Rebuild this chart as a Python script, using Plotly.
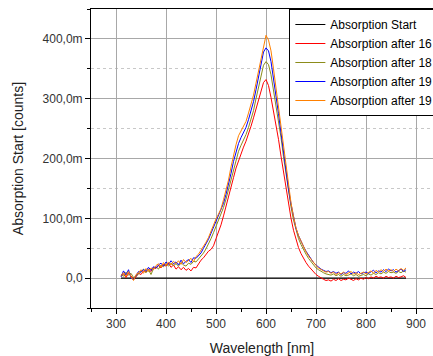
import plotly.graph_objects as go

# Wavelength grid [nm]
wavelength = list(range(310, 885, 5))

# Absorption values in milli-counts (m)
start_wl = [310, 880]
start_vals = [0, 0]

red_vals = [
    3, 7, 1, 8, 4, -3, 2, 8, 6, 12,
    10, 15, 11, 18, 16, 21, 17, 23, 20, 25,
    18, 22, 15, 19, 14, 18, 13, 16, 12, 18,
    17, 24, 30, 34, 40, 45, 48, 54, 66, 77,
    89, 104, 121, 139, 154, 168, 184, 197, 209, 219,
    229, 240, 254, 268, 282, 296, 312, 327, 332, 322,
    302, 280, 258, 232, 204, 176, 148, 123, 100, 80,
    64, 51, 41, 33, 26, 20, 15, 10, 6, 3,
    0, -2, -4, -3, -5, -2, -4, -1, -4, -2,
    -3, 0, -2, -4, -1, -3, 0, -2, 1, -1,
    2, 0, 3, 1, 2, 0, 3, 1, 2, 0,
    3, 1, 2, 4, 1,
]

olive_vals = [
    6, 3, 10, 5, 8, 1, 3, 7, 12, 15,
    9, 14, 6, 16, 19, 15, 22, 19, 24, 20,
    25, 21, 24, 20, 26, 22, 20, 25, 23, 28,
    27, 32, 36, 42, 49, 57, 66, 76, 86, 95,
    105, 118, 132, 148, 165, 182, 198, 212, 222, 230,
    240, 252, 265, 280, 300, 320, 340, 356, 362, 357,
    340, 315, 292, 264, 235, 203, 172, 144, 119, 97,
    79, 66, 56, 47, 40, 33, 27, 22, 17, 14,
    11, 9, 7, 6, 5, 7, 4, 6, 3, 6,
    4, 5, 7, 4, 6, 3, 5, 6, 4, 7,
    5, 8, 6, 9, 7, 10, 8, 11, 9, 10,
    8, 11, 9, 12, 10,
]

blue_vals = [
    2, 12, 5, 14, 0, -2, 4, 11, 10, 14,
    12, 18, 13, 19, 17, 22, 25, 20, 27, 23,
    29, 24, 27, 22, 30, 24, 28, 31, 26, 34,
    33, 38, 42, 50, 57, 65, 75, 85, 94, 102,
    112, 125, 140, 156, 175, 195, 210, 225, 235, 243,
    252, 265, 280, 295, 315, 338, 358, 378, 385, 380,
    362, 335, 305, 275, 243, 210, 178, 149, 124, 101,
    83, 71, 61, 53, 45, 38, 31, 26, 22, 18,
    15, 13, 11, 12, 9, 11, 8, 10, 6, 9,
    8, 12, 7, 10, 8, 11, 7, 9, 10, 8,
    11, 13, 9, 12, 10, 14, 11, 15, 12, 14,
    10, 13, 15, 11, 14,
]

orange_vals = [
    4, 9, 3, 11, 2, -4, 6, 9, 14, 8,
    16, 11, 17, 14, 21, 24, 18, 26, 21, 27,
    22, 28, 24, 29, 23, 31, 26, 29, 33, 27,
    36, 40, 46, 53, 60, 68, 79, 89, 99, 107,
    116, 131, 146, 164, 186, 206, 223, 238, 246, 253,
    262, 276, 290, 306, 326, 346, 369, 391, 406, 398,
    380, 350, 318, 285, 250, 215, 182, 152, 126, 103,
    84, 71, 61, 52, 44, 37, 31, 26, 21, 17,
    14, 12, 10, 11, 8, 10, 6, 9, 7, 10,
    6, 9, 11, 7, 9, 6, 8, 10, 7, 9,
    12, 8, 13, 10, 14, 11, 15, 12, 14, 11,
    15, 12, 16, 13, 17,
]

series_names = [
    "Absorption Start",
    "Absorption after 16",
    "Absorption after 18",
    "Absorption after 19",
    "Absorption after 19",
]
series_colors = ["#000000", "#ff0000", "#8c8c1a", "#0000ff", "#ff8000"]

y_tickvals = [0, 100, 200, 300, 400]
y_ticktext = ["0,0", "100,0m", "200,0m", "300,0m", "400,0m"]
x_tickvals = [300, 400, 500, 600, 700, 800, 900]

FONT = "Liberation Sans, Arial, sans-serif"

fig = go.Figure()
fig.add_trace(go.Scatter(x=start_wl, y=start_vals, mode="lines", name=series_names[0],
                         line=dict(color=series_colors[0], width=1.2)))
for name, col, vals in zip(series_names[1:], series_colors[1:],
                           [red_vals, olive_vals, blue_vals, orange_vals]):
    fig.add_trace(go.Scatter(x=wavelength, y=vals, mode="lines", name=name,
                             line=dict(color=col, width=1)))

fig.update_layout(
    width=433, height=356,
    margin=dict(l=91, r=0, t=9, b=48, autoexpand=False),
    paper_bgcolor="white", plot_bgcolor="white",
    font=dict(family=FONT, size=12, color="#333333"),
    showlegend=True,
    hovermode=False,
    legend=dict(x=0.58, y=1, xanchor="left", yanchor="top",
                bgcolor="white", bordercolor="black", borderwidth=1,
                font=dict(family=FONT, size=12, color="black"),
                itemwidth=30, tracegroupgap=0),
    xaxis=dict(
        range=[250, 934], tickmode="array", tickvals=x_tickvals,
        ticks="outside", ticklen=5, tickcolor="black",
        showline=True, linecolor="black", linewidth=1, mirror=True,
        showgrid=True, gridcolor="#a8a8a8", gridwidth=1, zeroline=False,
        minor=dict(dtick=50, tick0=250, ticks="outside", ticklen=3, tickcolor="black", showgrid=False),
        title=dict(text="Wavelength [nm]", font=dict(family=FONT, size=14, color="#222222")),
        tickfont=dict(family=FONT, size=12, color="#333333"),
    ),
    yaxis=dict(
        range=[-50, 450], tickmode="array", tickvals=y_tickvals, ticktext=y_ticktext,
        ticks="outside", ticklen=5, tickcolor="black",
        showline=True, linecolor="black", linewidth=1, mirror=False,
        showgrid=True, gridcolor="#a8a8a8", gridwidth=1, zeroline=False,
        minor=dict(dtick=50, tick0=-50, ticks="outside", ticklen=3, tickcolor="black",
                   showgrid=True, gridcolor="#c8c8c8", griddash="dot", gridwidth=1),
        title=dict(text="Absorption Start [counts]", font=dict(family=FONT, size=14, color="#222222")),
        tickfont=dict(family=FONT, size=12, color="#333333"),
    ),
)

fig.write_html("out.html", config={"displayModeBar": False},
               post_script="document.body.style.margin='0';document.body.style.overflow='hidden';")
